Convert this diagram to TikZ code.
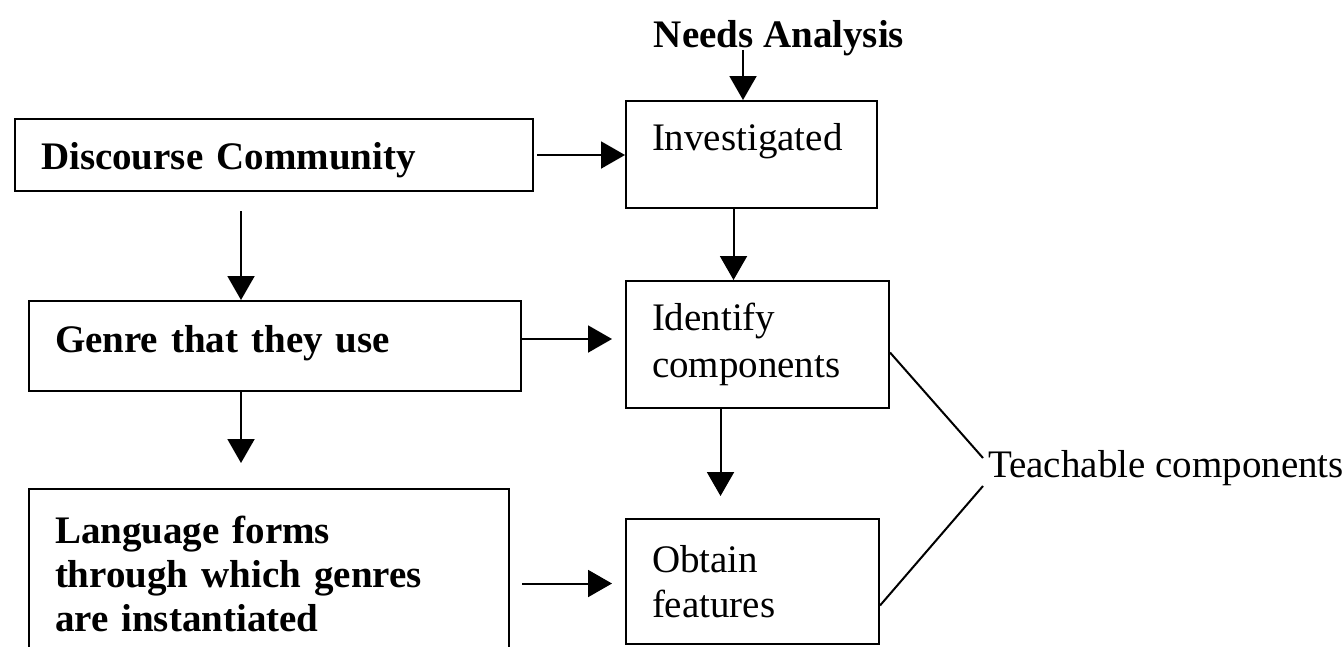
\documentclass[tikz,border=0pt]{standalone}
\usepackage{fontspec}
\setmainfont{Liberation Serif}
\usetikzlibrary{arrows.meta, positioning, calc}
\tikzset{
    % Stage box style
    stage/.style={
        rectangle,
        draw=black,
        line width=2pt,
        anchor=north west,
        align=left,
        inner xsep=26pt,
        inner ysep=0pt,
        font=\fontsize{39}{45}\selectfont
    },
    % Bold stage box
    bold stage/.style={
        stage,
        font=\fontsize{39}{44}\selectfont\bfseries
    },
    % Arrow style
    flow/.style={
        -{Triangle[length=24pt, width=27pt]},
        line width=2pt
    },
    % Plain line style
    link/.style={
        line width=2pt
    },
    % Label style
    label text/.style={
        inner sep=0pt,
        font=\fontsize{39}{45}\selectfont
    }
}
\begin{document}
\begin{tikzpicture}[x=1pt, y=-1pt]
    \useasboundingbox (0,0) rectangle (1343,646);
    \clip (0,0) rectangle (1343,646);

    % Left column
    \node[bold stage, text width=466pt, minimum height=72pt, text height=38pt] (discourse) at (14,118) {Discourse Community};
    \node[bold stage, text width=440pt, minimum height=90pt, text depth=14pt] (genre) at (28,300) {Genre that they use};
    \node[bold stage, text width=428pt, minimum height=170pt] (language) at (28,488) {Language forms\\through which genres\\are instantiated};

    % Right column
    \node[label text, font=\fontsize{39}{45}\selectfont\bfseries] (needs) at (779,38) {Needs Analysis};
    \node[stage, text width=199pt, minimum height=107pt, text depth=36pt] (invest) at (625,100) {Investigated};
    \node[stage, text width=211pt, minimum height=127pt, font=\fontsize{39}{47}\selectfont] (identify) at (625,280) {Identify\\components};
    \node[stage, text width=201pt, minimum height=125pt] (obtain) at (625,518) {Obtain\\features};
    \node[label text, anchor=west] (teach) at (988,468) {Teachable components};

    % Arrows down the left column
    \draw[flow] ([xshift=-33pt, yshift=-19pt]discourse.south) -- ([xshift=-33pt]discourse.south |- genre.north);
    \draw[flow] ([xshift=-34pt]genre.south) -- ([xshift=-34pt, yshift=25pt]genre.south |- language.north);

    % Arrows across
    \draw[flow] ([xshift=3pt]discourse.east) -- (discourse.east -| invest.west);
    \draw[flow] ([yshift=7pt]genre.east) -- ([xshift=-13pt, yshift=7pt]genre.east -| identify.west);
    \draw[flow] ([xshift=12pt, yshift=-2pt]language.east |- obtain.west) -- ([xshift=-13pt, yshift=-2pt]obtain.west);

    % Arrows down the right column
    \draw[flow] ([xshift=-36pt, yshift=6pt]needs.south) -- ([xshift=-36pt]needs.south |- invest.north);
    \draw[flow] ([xshift=-18pt]invest.south) -- ([xshift=-18pt]invest.south |- identify.north);
    \draw[flow] ([xshift=-37pt]identify.south) -- ([xshift=-37pt, yshift=22pt]identify.south |- obtain.north);

    % Teachable components
    \draw[link] ([yshift=-8pt]identify.east) -- ([xshift=-5pt, yshift=10pt]teach.west);
    \draw[link] ([yshift=-24pt]obtain.east) -- ([xshift=-5pt, yshift=-18pt]teach.west);
\end{tikzpicture}
\end{document}
